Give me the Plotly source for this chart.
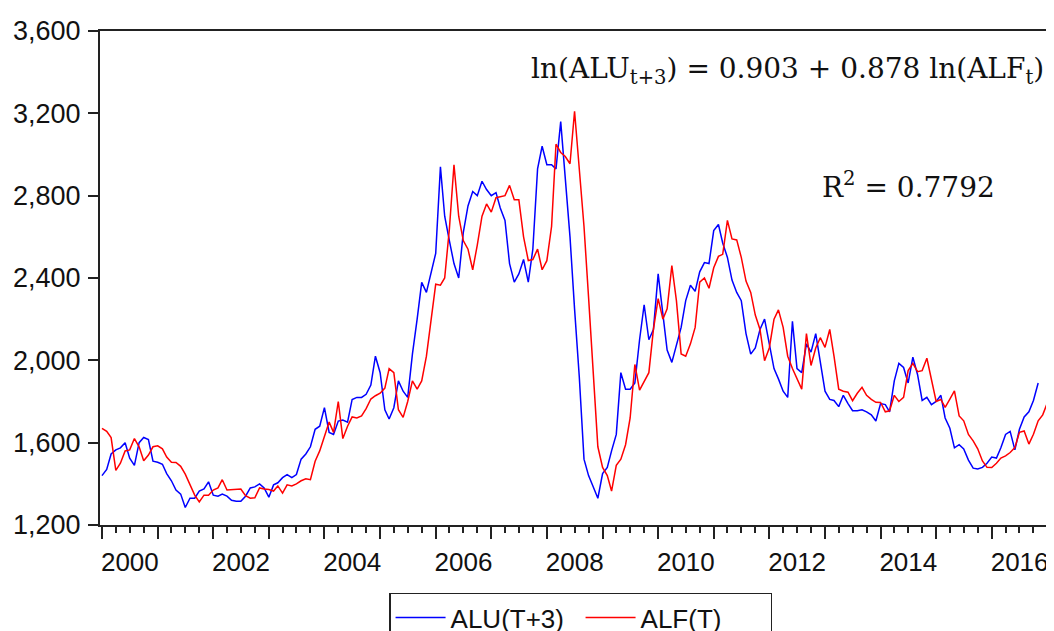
import plotly.graph_objects as go
import pandas as pd

# ALU(T+3), monthly from 2000-01
alu_t3 = [
    1440, 1470, 1545, 1565, 1575, 1600, 1525, 1490, 1600, 1625, 1615, 1510,   # 2000
    1505, 1495, 1450, 1415, 1370, 1350, 1285, 1330, 1330, 1365, 1375, 1410,   # 2001
    1345, 1340, 1350, 1340, 1320, 1315, 1315, 1340, 1380, 1385, 1400, 1380,   # 2002
    1335, 1395, 1405, 1430, 1445, 1430, 1445, 1520, 1545, 1580, 1665, 1680,   # 2003
    1770, 1650, 1640, 1705, 1710, 1700, 1810, 1820, 1820, 1835, 1880, 2020,   # 2004
    1940, 1760, 1715, 1770, 1900, 1850, 1820, 2030, 2200, 2379, 2330, 2420,   # 2005
    2520, 2940, 2700, 2580, 2470, 2400, 2620, 2750, 2820, 2800, 2870, 2830,   # 2006
    2800, 2815, 2740, 2680, 2470, 2380, 2420, 2490, 2380, 2540, 2930, 3040,   # 2007
    2950, 2950, 2930, 3160, 2900, 2600, 2250, 1920, 1520, 1440, 1385, 1330,   # 2008
    1450, 1480, 1560, 1640, 1940, 1860, 1860, 1890, 2100, 2270, 2100, 2150,   # 2009
    2420, 2220, 2050, 1990, 2080, 2160, 2290, 2365, 2335, 2430, 2475, 2470,   # 2010
    2630, 2660, 2570, 2500, 2390, 2330, 2290, 2130, 2030, 2060, 2150, 2200,   # 2011
    2080, 1960, 1910, 1850, 1820, 2190, 1960, 1940, 2080, 2040, 2130, 2000,   # 2012
    1850, 1810, 1805, 1775, 1830, 1790, 1755, 1755, 1760, 1750, 1735, 1705,   # 2013
    1790, 1785, 1750, 1900, 1985, 1965, 1890, 2015, 1930, 1805, 1820, 1785,   # 2014
    1800, 1830, 1720, 1670, 1575, 1590, 1570, 1515, 1476, 1472, 1480, 1500,   # 2015
    1530, 1525, 1575, 1640, 1655, 1565, 1665, 1725, 1750, 1805, 1890,         # 2016
]

# ALF(T), monthly from 2000-01
alf_t = [
    1670, 1655, 1625, 1465, 1500, 1560, 1565, 1620, 1580, 1512, 1540, 1580,   # 2000
    1585, 1570, 1530, 1505, 1504, 1485, 1447, 1400, 1345, 1312, 1345, 1345,   # 2001
    1370, 1380, 1420, 1370, 1372, 1375, 1375, 1342, 1330, 1332, 1380, 1375,   # 2002
    1372, 1365, 1390, 1355, 1395, 1390, 1400, 1415, 1425, 1420, 1510, 1560,   # 2003
    1625, 1700, 1650, 1800, 1620, 1680, 1725, 1720, 1730, 1765, 1812, 1828,   # 2004
    1840, 1865, 1960, 1940, 1760, 1723, 1800, 1900, 1860, 1900, 2020, 2200,   # 2005
    2370, 2365, 2400, 2640, 2950, 2700, 2582, 2540, 2440, 2560, 2700, 2760,   # 2006
    2720, 2790, 2795, 2800, 2850, 2780, 2780, 2600, 2485, 2490, 2540, 2440,   # 2007
    2484, 2650, 3050, 3010, 2990, 2955, 3210, 2950, 2650, 2306, 1934, 1580,   # 2008
    1480, 1440, 1365, 1490, 1520, 1590, 1720, 1980, 1855, 1900, 1940, 2150,   # 2009
    2300, 2200, 2250, 2460, 2290, 2031, 2020, 2080, 2160, 2380, 2400, 2350,   # 2010
    2450, 2505, 2515, 2680, 2590, 2585, 2500, 2385, 2330, 2220, 2150, 1998,   # 2011
    2060, 2200, 2245, 2160, 2020, 1960, 1910, 1860, 2130, 1975, 2060, 2110,   # 2012
    2063, 2150, 2020, 1860, 1850, 1845, 1804, 1840, 1869, 1830, 1810, 1796,   # 2013
    1795, 1750, 1755, 1830, 1800, 1820, 1950, 1985, 1945, 1950, 2010, 1900,   # 2014
    1800, 1810, 1771, 1812, 1852, 1730, 1706, 1640, 1609, 1570, 1511, 1480,   # 2015
    1479, 1500, 1525, 1536, 1552, 1576, 1650, 1657, 1593, 1641, 1706, 1735,   # 2016
    1795, 1909,                                                               # 2017
]

series_names = ["ALU(T+3)", "ALF(T)"]
y_ticks = [1200, 1600, 2000, 2400, 2800, 3200, 3600]
year_labels = ["2000", "2002", "2004", "2006", "2008", "2010", "2012", "2014", "2016"]

dates_alu = pd.date_range("2000-01-01", periods=len(alu_t3), freq="MS")
dates_alf = pd.date_range("2000-01-01", periods=len(alf_t), freq="MS")
label_pos = [f"{y}-07-02" for y in year_labels]
x_range = ["1999-12-19", "2017-02-13"]

fig = go.Figure()
fig.add_trace(go.Scatter(x=dates_alu, y=alu_t3, mode="lines", name=series_names[0],
                         line=dict(color="#0000FF", width=1.5), xaxis="x", yaxis="y"))
fig.add_trace(go.Scatter(x=dates_alf, y=alf_t, mode="lines", name=series_names[1],
                         line=dict(color="#FF0000", width=1.5), xaxis="x2", yaxis="y"))

sans = "Liberation Sans, Arial, sans-serif"
serif = "DejaVu Serif, serif"

fig.update_layout(
    width=1046, height=623,
    margin=dict(l=92, r=0, t=23, b=106, autoexpand=False),
    paper_bgcolor="white", plot_bgcolor="white",
    showlegend=True,
    xaxis=dict(
        type="date", range=x_range,
        tickmode="linear", tick0="2000-01-01", dtick="M12",
        ticks="outside", ticklen=12, tickwidth=2, tickcolor="#222222",
        showticklabels=False,
        minor=dict(ticks="outside", ticklen=6, tickwidth=2, tickcolor="#222222",
                   dtick="M3", tick0="2000-01-01", showgrid=False),
        showline=True, linecolor="#222222", linewidth=2, mirror=True,
        showgrid=False, zeroline=False,
    ),
    xaxis2=dict(
        type="date", overlaying="x", matches="x", side="bottom", range=x_range,
        tickmode="array", tickvals=label_pos, ticktext=year_labels,
        ticks="outside", ticklen=14, tickcolor="rgba(0,0,0,0)",
        tickfont=dict(family=sans, size=26, color="#111111"),
        showline=False, showgrid=False, zeroline=False,
    ),
    yaxis=dict(
        range=[1200, 3600], tickmode="array", tickvals=y_ticks,
        ticktext=[f"{v:,}" for v in y_ticks],
        ticks="outside", ticklen=10, tickwidth=2, tickcolor="#222222",
        tickfont=dict(family=sans, size=27, color="#111111"), ticklabelstandoff=2,
        showline=True, linecolor="#222222", linewidth=2, mirror=False,
        showgrid=False, zeroline=False,
    ),
    legend=dict(
        orientation="h", x=0.303, xanchor="left", y=-0.137, yanchor="top",
        font=dict(family=sans, size=26, color="#111111"),
        bordercolor="#222222", borderwidth=1.5, bgcolor="white",
        itemwidth=50, entrywidth=125,
    ),
    annotations=[
        dict(text="ln(ALU<sub>t+3</sub>) = 0.903 + 0.878 ln(ALF<sub>t</sub>)",
             xref="paper", yref="paper", x=0.992, y=0.921, xanchor="right", yanchor="middle",
             showarrow=False, font=dict(family=serif, size=28, color="#111111")),
        dict(text="R<sup>2</sup> = 0.7792",
             xref="paper", yref="paper", x=0.847, y=0.688, xanchor="center", yanchor="middle",
             showarrow=False, font=dict(family=serif, size=28, color="#111111")),
    ],
)

fig.write_html("out.html")
